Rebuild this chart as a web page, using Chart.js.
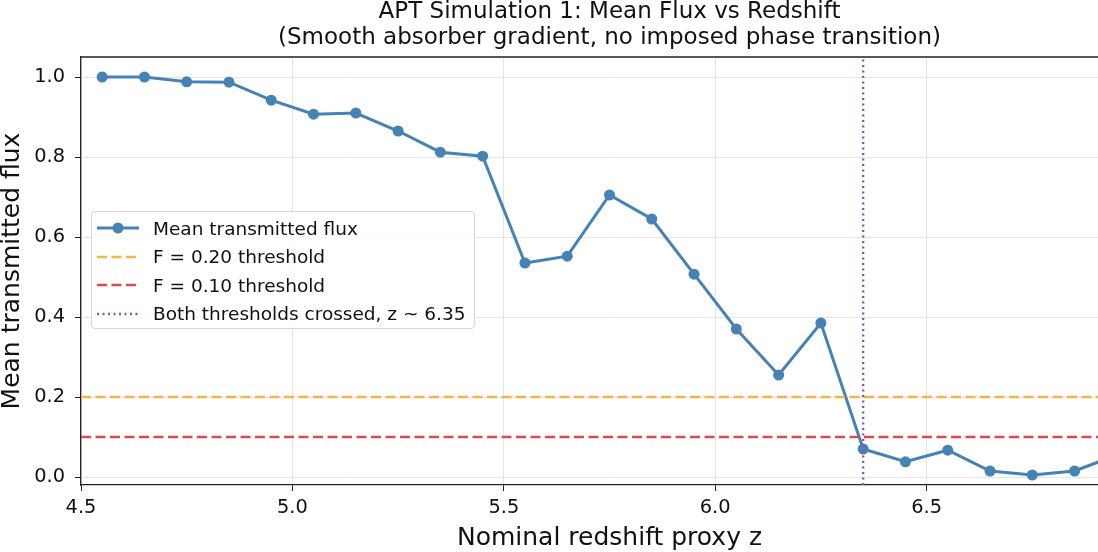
<!DOCTYPE html>
<html>
<head>
<meta charset="utf-8">
<script src="https://cdn.jsdelivr.net/npm/chart.js@4.4.1/dist/chart.umd.min.js"></script>
<style>
  html, body { margin: 0; padding: 0; background: #fff; }
  #wrap { position: relative; width: 1098px; height: 552px; overflow: hidden; }
  #box { position: absolute; left: 0; top: 0; width: 1160px; height: 552px; }
  #legend {
    position: absolute; left: 91px; top: 211px; width: 384px; height: 118px;
    box-sizing: border-box; border: 1px solid #d6d6d6; border-radius: 4px;
    background: rgba(255,255,255,0.8); font-family: "DejaVu Sans", sans-serif;
    font-size: 18.5px; color: #111; padding-top: 2px;
  }
  #legend .row { height: 28.5px; display: flex; align-items: center; white-space: nowrap; }
  #legend svg { margin-left: 5px; margin-right: 14px; flex: none; }
</style>
</head>
<body>
<div id="wrap">
  <div id="box"><canvas id="canvas" width="1160" height="552"></canvas></div>
  <div id="legend">
    <div class="row"><svg width="42" height="14"><line x1="0" y1="7" x2="42" y2="7" stroke="#4682b4" stroke-width="3"/><circle cx="21" cy="7" r="5.5" fill="#4682b4"/></svg>Mean transmitted flux</div>
    <div class="row"><svg width="42" height="14"><line x1="0" y1="7" x2="42" y2="7" stroke="#f0b840" stroke-width="2.4" stroke-dasharray="10 4.5"/></svg>F = 0.20 threshold</div>
    <div class="row"><svg width="42" height="14"><line x1="0" y1="7" x2="42" y2="7" stroke="#e0484f" stroke-width="2.4" stroke-dasharray="10 4.5"/></svg>F = 0.10 threshold</div>
    <div class="row"><svg width="42" height="14"><line x1="0" y1="7" x2="42" y2="7" stroke="#8e52a6" stroke-width="2.4" stroke-dasharray="2 3.5"/></svg>Both thresholds crossed, z ~ 6.35</div>
  </div>
</div>
<script>
// redshift bins and mean flux
var redshift = [4.55, 4.65, 4.75, 4.85, 4.95, 5.05, 5.15, 5.25, 5.35, 5.45, 5.55, 5.65,
                5.75, 5.85, 5.95, 6.05, 6.15, 6.25, 6.35, 6.45, 6.55, 6.65, 6.75, 6.85, 6.95];
var meanFlux = [1.0, 1.0, 0.988, 0.987, 0.942, 0.907, 0.910, 0.865, 0.812, 0.802, 0.535, 0.552,
                0.705, 0.645, 0.507, 0.370, 0.255, 0.385, 0.070, 0.038, 0.067, 0.015, 0.005, 0.015, 0.055];
var thresholdHi = 0.20;
var thresholdLo = 0.10;
var crossingZ = 6.35;
var xRange = [4.5, 7.0];
var yRange = [-0.02, 1.05];
var yTicks = [0.0, 0.2, 0.4, 0.6, 0.8, 1.0];
var titleLines = ["APT Simulation 1: Mean Flux vs Redshift",
                  "(Smooth absorber gradient, no imposed phase transition)"];

var pts = [];
for (var i = 0; i < redshift.length; i++) {
	pts.push({x: redshift[i], y: meanFlux[i]});
}

var frame = {
	id: 'frame',
	afterDraw: function(chart) {
		var ctx = chart.ctx, a = chart.chartArea;
		ctx.save();
		ctx.strokeStyle = '#222';
		ctx.lineWidth = 1.3;
		ctx.beginPath();
		ctx.moveTo(a.left, a.top);
		ctx.lineTo(a.right, a.top);
		ctx.lineTo(a.right, a.bottom);
		ctx.stroke();
		// title
		ctx.fillStyle = '#111';
		ctx.font = '23px "DejaVu Sans"';
		ctx.textAlign = 'center';
		ctx.textBaseline = 'middle';
		var cx = 609.5;
		ctx.fillText(titleLines[0], cx, 12);
		ctx.fillText(titleLines[1], cx, 38);
		ctx.restore();
	}
};

var c = document.getElementById('canvas');
var chart = new Chart(c, {
	type: 'line',
	data: {
		datasets: [
			{
				label: 'Mean transmitted flux',
				data: pts,
				borderColor: '#4682b4',
				backgroundColor: '#4682b4',
				borderWidth: 3,
				pointRadius: 5.5,
				pointBorderWidth: 0,
				order: 2
			},
			{
				label: 'F = 0.20 threshold',
				data: [{x: xRange[0], y: thresholdHi}, {x: xRange[1], y: thresholdHi}],
				borderColor: '#f0b840',
				borderWidth: 2.3,
				borderDash: [10, 4.5],
				pointRadius: 0,
				order: 1
			},
			{
				label: 'F = 0.10 threshold',
				data: [{x: xRange[0], y: thresholdLo}, {x: xRange[1], y: thresholdLo}],
				borderColor: '#e0484f',
				borderWidth: 2.3,
				borderDash: [10, 4.5],
				pointRadius: 0,
				order: 1
			},
			{
				label: 'Both thresholds crossed, z ~ 6.35',
				data: [{x: crossingZ, y: yRange[0]}, {x: crossingZ, y: yRange[1]}],
				borderColor: '#8e52a6',
				borderWidth: 2.3,
				borderDash: [2, 3.5],
				pointRadius: 0,
				order: 0
			}
		]
	},
	options: {
		responsive: false,
		animation: false,
		layout: {padding: {top: 57, right: 22, left: 0, bottom: 0}},
		plugins: {legend: {display: false}, tooltip: {enabled: false}},
		scales: {
			x: {
				type: 'linear',
				min: xRange[0], max: xRange[1],
				ticks: {stepSize: 0.5, color: '#111', padding: 5,
					font: {family: 'DejaVu Sans', size: 19.4},
					callback: function(v) { return v.toFixed(1); }},
				grid: {color: '#e4e4e4', tickColor: '#222', tickLength: 6, lineWidth: 1},
				border: {color: '#222', width: 1.3},
				title: {display: true, text: 'Nominal redshift proxy z', color: '#111',
					font: {family: 'DejaVu Sans', size: 25, lineHeight: 1.0}, padding: {top: 0, bottom: 1}},
				afterFit: function(s) { s.height = 67; }
			},
			y: {
				min: yRange[0], max: yRange[1],
				afterBuildTicks: function(s) { s.ticks = yTicks.map(function(v){ return {value: v}; }); },
				ticks: {color: '#111', padding: 10,
					font: {family: 'DejaVu Sans', size: 19.4},
					callback: function(v) { return v.toFixed(1); }},
				grid: {color: '#e4e4e4', tickColor: '#222', tickLength: 6, lineWidth: 1},
				border: {color: '#222', width: 1.3},
				title: {display: true, text: 'Mean transmitted flux', color: '#111',
					font: {family: 'DejaVu Sans', size: 25, lineHeight: 1.0}, padding: {top: 0, bottom: 0}},
				afterFit: function(s) { s.width = 81; }
			}
		}
	},
	plugins: [frame]
});
</script>
</body>
</html>
